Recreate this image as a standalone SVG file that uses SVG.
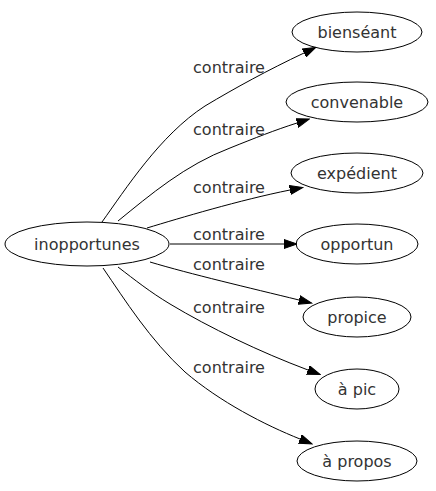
<svg xmlns="http://www.w3.org/2000/svg" width="436" height="491" viewBox="0 0 436 491">
<style>
.n ellipse{fill:none;stroke:#000;stroke-width:1}
text{font-family:"DejaVu Sans",sans-serif;font-size:16px;fill:#333;text-anchor:middle}
#edges path{fill:none;stroke:#000;stroke-width:1;marker-end:url(#ah)}
</style>
<defs>
<marker id="ah" markerUnits="userSpaceOnUse" markerWidth="14" markerHeight="10" refX="0" refY="5" orient="auto">
<path d="M0,0.5 L13,5 L0,9.5 z" fill="#000" stroke="#000"/>
</marker>
</defs>
<rect width="436" height="491" fill="#fff"/>
<g id="edges">
<path d="M102,222 C125,190 160,135 205,106 C235,88 268,70 304,53"/>
<path d="M118,221 C150,195 185,165 230,148 C255,138 275,130 297,123"/>
<path d="M147,228 C180,218 240,200 290,190"/>
<path d="M170,244 L284,244"/>
<path d="M150,262 C190,274 250,288 299,300"/>
<path d="M118,267 C135,280 150,292 170,304 C210,328 260,352 308,370"/>
<path d="M103,268 C125,300 150,340 185,372 C220,402 265,425 300,439"/>
<text x="229" y="73">contraire</text>
<text x="229" y="135">contraire</text>
<text x="229" y="193">contraire</text>
<text x="229" y="240">contraire</text>
<text x="229" y="270">contraire</text>
<text x="229" y="313">contraire</text>
<text x="229" y="373">contraire</text>
</g>
<g id="inopportunes" class="n"><ellipse cx="87" cy="244" rx="82" ry="22"/><text x="87" y="250">inopportunes</text></g>
<g id="bienseant" class="n"><ellipse cx="357" cy="32" rx="65" ry="20"/><text x="357" y="38">bienséant</text></g>
<g id="convenable" class="n"><ellipse cx="357" cy="102" rx="71" ry="20"/><text x="357" y="108">convenable</text></g>
<g id="expedient" class="n"><ellipse cx="357" cy="173" rx="66" ry="20"/><text x="357" y="179">expédient</text></g>
<g id="opportun" class="n"><ellipse cx="357" cy="244" rx="61" ry="20"/><text x="357" y="250">opportun</text></g>
<g id="propice" class="n"><ellipse cx="357" cy="317" rx="54" ry="20"/><text x="357" y="323">propice</text></g>
<g id="apic" class="n"><ellipse cx="357" cy="389" rx="42" ry="20"/><text x="357" y="395">à pic</text></g>
<g id="apropos" class="n"><ellipse cx="357" cy="461" rx="60" ry="20"/><text x="357" y="467">à propos</text></g>
</svg>
